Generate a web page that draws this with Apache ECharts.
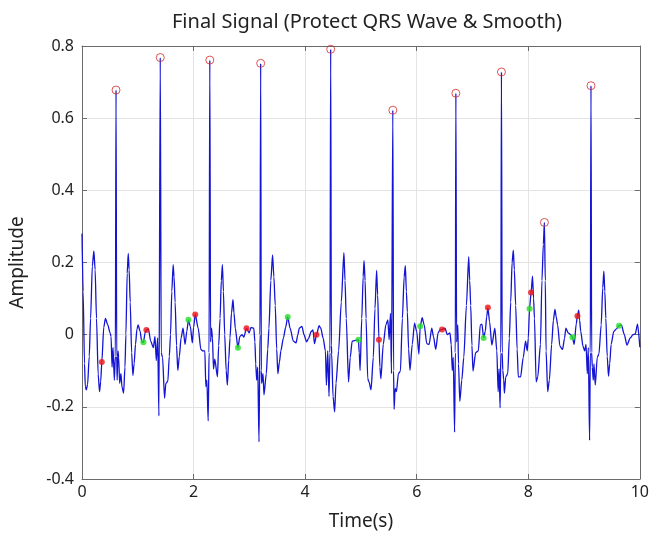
<!DOCTYPE html>
<html>
<head>
<meta charset="utf-8">
<script src="https://cdn.jsdelivr.net/npm/echarts@6/dist/echarts.min.js"></script>
<style>
html,body{margin:0;padding:0;background:#fff;}
#chart{width:652px;height:536px;}
</style>
</head>
<body>
<div id="chart"></div>
<script>
// ---- Data ----
const sigTime = [
0.000,0.020,0.045,0.059,0.077,0.100,0.130,0.154,0.185,0.213,0.235,0.260,0.290,0.314,0.335,0.355,0.390,0.420,0.462,0.503,
0.521,0.539,0.556,0.580,0.598,0.610,0.622,0.630,0.645,0.657,0.675,0.698,0.716,0.746,0.770,0.787,0.810,0.829,0.845,0.864,
0.890,0.912,0.935,0.959,0.985,1.006,1.042,1.071,1.101,1.131,1.154,1.190,1.231,1.279,1.308,1.332,1.356,1.379,1.403,1.420,
1.444,1.480,1.503,1.539,1.565,1.587,1.610,1.634,1.650,1.669,1.695,1.717,1.745,1.776,1.812,1.847,1.880,1.907,1.942,1.978,
2.000,2.030,2.083,2.131,2.167,2.202,2.220,2.238,2.262,2.278,2.291,2.305,2.321,2.339,2.357,2.380,2.428,2.450,2.475,2.497,
2.517,2.535,2.558,2.585,2.606,2.630,2.653,2.680,2.706,2.725,2.748,2.795,2.830,2.872,2.901,2.949,2.996,3.031,3.079,3.100,
3.114,3.132,3.150,3.173,3.190,3.203,3.214,3.221,3.245,3.262,3.304,3.330,3.351,3.385,3.416,3.440,3.464,3.490,3.511,3.540,
3.564,3.611,3.650,3.688,3.730,3.789,3.836,3.870,3.895,3.943,3.980,4.026,4.060,4.109,4.140,4.168,4.204,4.251,4.280,4.322,
4.364,4.381,4.405,4.428,4.445,4.458,4.470,4.476,4.500,4.529,4.553,4.600,4.648,4.695,4.715,4.737,4.778,4.808,4.843,4.896,
4.955,4.970,4.985,5.015,5.040,5.056,5.075,5.092,5.122,5.145,5.181,5.222,5.252,5.281,5.300,5.323,5.340,5.358,5.400,5.447,
5.483,5.506,5.530,5.548,5.572,5.585,5.595,5.613,5.636,5.672,5.708,5.743,5.775,5.796,5.815,5.832,5.855,5.879,5.920,5.961,
6.000,6.039,6.063,6.098,6.134,6.181,6.222,6.270,6.300,6.341,6.383,6.420,6.454,6.507,6.548,6.596,6.619,6.637,6.655,6.679,
6.692,6.702,6.715,6.737,6.749,6.773,6.808,6.844,6.891,6.932,6.950,6.968,6.990,7.009,7.057,7.104,7.140,7.169,7.199,7.229,
7.255,7.276,7.306,7.347,7.401,7.436,7.460,7.477,7.495,7.508,7.519,7.532,7.543,7.560,7.572,7.596,7.632,7.660,7.685,7.710,
7.732,7.750,7.774,7.800,7.821,7.862,7.910,7.951,7.981,8.000,8.023,8.050,8.076,8.095,8.111,8.141,8.170,8.218,8.245,8.270,
8.289,8.305,8.319,8.348,8.378,8.419,8.450,8.478,8.500,8.526,8.567,8.614,8.650,8.674,8.715,8.760,8.792,8.822,8.860,8.881,
8.904,8.920,8.940,8.981,9.011,9.035,9.058,9.076,9.099,9.112,9.124,9.136,9.148,9.165,9.177,9.201,9.236,9.266,9.307,9.335,
9.355,9.372,9.390,9.415,9.438,9.460,9.485,9.533,9.580,9.627,9.669,9.722,9.769,9.828,9.876,9.917,9.959,10.000
];
const sigAmp = [
0.280,0.120,-0.080,-0.144,-0.153,-0.138,-0.060,0.045,0.190,0.232,0.180,0.045,-0.110,-0.158,-0.130,-0.076,0.020,0.045,0.027,0.005,
-0.005,-0.090,-0.036,-0.126,-0.060,0.678,-0.060,-0.126,-0.045,-0.063,-0.135,-0.108,-0.144,-0.162,-0.090,0.000,0.170,0.225,0.180,0.090,
-0.050,-0.113,-0.080,-0.027,0.015,0.027,0.009,-0.020,-0.021,0.005,0.013,0.016,-0.018,-0.036,-0.005,-0.072,-0.009,-0.225,0.768,-0.050,
-0.063,-0.176,-0.135,-0.129,-0.060,0.000,0.120,0.194,0.160,0.090,-0.030,-0.099,-0.060,-0.009,0.018,-0.027,0.010,0.041,0.023,-0.023,
0.020,0.056,0.018,-0.041,-0.045,-0.045,-0.144,-0.126,-0.239,-0.050,0.761,-0.020,0.018,-0.009,-0.095,-0.068,-0.117,-0.030,0.045,0.150,
0.194,0.120,0.000,-0.100,-0.140,-0.070,-0.009,0.060,0.097,0.060,0.018,-0.036,-0.005,0.000,-0.007,0.018,0.005,0.020,0.018,-0.020,
-0.081,-0.126,-0.090,-0.297,0.000,0.752,-0.100,-0.135,-0.108,-0.167,-0.108,-0.040,0.018,0.150,0.221,0.160,0.081,-0.040,-0.108,-0.075,
-0.045,-0.009,0.020,0.049,0.018,-0.018,-0.023,0.000,0.018,0.023,0.000,-0.020,-0.011,0.009,0.013,-0.025,0.000,0.025,0.018,-0.009,
-0.045,-0.140,-0.045,-0.171,-0.050,0.791,-0.030,-0.054,-0.171,-0.214,-0.135,-0.045,0.090,0.227,0.150,0.045,-0.131,-0.063,-0.018,-0.016,
-0.014,-0.050,-0.099,0.045,0.160,0.205,0.150,0.045,-0.122,-0.131,-0.153,-0.063,0.072,0.178,0.110,-0.014,-0.090,-0.122,-0.027,0.027,
0.041,-0.014,0.059,-0.108,0.622,-0.100,-0.207,-0.149,-0.158,-0.108,-0.101,0.045,0.160,0.191,0.120,0.063,-0.040,-0.099,-0.027,0.032,
0.009,-0.054,0.023,0.047,0.027,-0.025,-0.027,0.018,-0.005,-0.041,0.005,0.014,0.014,0.018,0.000,0.005,-0.027,-0.099,-0.063,-0.270,
-0.050,0.669,-0.020,0.027,-0.081,-0.185,-0.126,-0.063,0.081,0.216,0.150,0.081,-0.030,-0.101,-0.050,-0.045,0.027,0.029,-0.009,0.009,
0.050,0.075,0.036,-0.029,0.018,-0.045,-0.158,-0.095,-0.203,-0.050,0.728,-0.050,-0.099,-0.126,-0.162,-0.117,-0.108,-0.010,0.090,0.200,
0.234,0.180,0.081,-0.040,-0.117,-0.117,-0.063,-0.018,-0.045,-0.010,0.072,0.117,0.162,0.100,0.045,-0.131,-0.117,-0.027,0.150,0.250,
0.311,0.150,-0.045,-0.158,-0.126,-0.027,0.040,0.070,0.050,0.027,-0.032,-0.041,-0.010,0.018,0.005,0.000,-0.007,-0.027,0.030,0.052,
0.068,0.040,0.009,-0.032,-0.045,-0.027,-0.108,-0.036,-0.293,-0.050,0.690,-0.050,-0.090,-0.126,-0.081,-0.140,-0.063,-0.054,0.027,0.130,
0.176,0.120,0.045,-0.060,-0.115,-0.080,-0.027,0.009,0.016,0.025,0.027,0.000,-0.029,-0.009,0.000,0.002,0.029,-0.035
];
// R peaks (hollow red circles)
const rPeakTime = [0.610,1.403,2.291,3.203,4.458,5.572,6.702,7.519,8.289,9.124];
const rPeakAmp  = [0.678,0.768,0.761,0.752,0.791,0.622,0.669,0.728,0.311,0.690];
// Red dots
const redTime = [0.355,1.154,2.030,2.949,4.204,5.323,6.454,7.276,8.050,8.881];
const redAmp  = [-0.076,0.013,0.056,0.018,0.000,-0.014,0.014,0.075,0.117,0.052];
// Green dots
const greenTime = [1.101,1.907,2.795,3.688,4.955,6.063,7.199,8.023,8.792,9.627];
const greenAmp  = [-0.021,0.041,-0.036,0.049,-0.014,0.023,-0.009,0.072,-0.007,0.025];
// Tick labels
const xTickLabels = ['0','2','4','6','8','10'];
const yTickLabels = ['-0.4','-0.2','0','0.2','0.4','0.6','0.8'];

const pairs = (xs, ys) => xs.map((x, i) => [x, ys[i]]);
const FONT = '"Noto Sans", "Open Sans", sans-serif';
const axisColor = '#6a6a6a';

const chart = echarts.init(document.getElementById('chart'), null, {renderer: 'canvas'});
chart.setOption({
  animation: false,
  backgroundColor: '#ffffff',
  title: {
    text: 'Final Signal (Protect QRS Wave & Smooth)',
    left: 362, top: 7, textAlign: 'center',
    textStyle: {fontFamily: FONT, fontSize: 20, fontWeight: 'normal', color: '#222'}
  },
  grid: {left: 80, right: 9, top: 46, bottom: 46, containLabel: false},
  xAxis: [{
    type: 'value', min: 0, max: 10, interval: 2,
    name: 'Time(s)', nameLocation: 'middle', nameGap: 33,
    nameTextStyle: {fontFamily: FONT, fontSize: 19, color: '#222'},
    axisLine: {show: true, onZero: false, lineStyle: {color: axisColor, width: 1}},
    axisTick: {show: true, inside: true, length: 5, lineStyle: {color: axisColor}},
    axisLabel: {fontFamily: FONT, fontSize: 16, color: '#222', margin: 5,
      formatter: v => xTickLabels[Math.round(v / 2)]},
    splitLine: {show: true, lineStyle: {color: '#e4e4e4', width: 1}}
  }, {
    type: 'value', min: 0, max: 10, interval: 2, position: 'top',
    axisLine: {show: true, onZero: false, lineStyle: {color: axisColor, width: 1}},
    axisTick: {show: true, inside: true, length: 5, lineStyle: {color: axisColor}},
    axisLabel: {show: false}, splitLine: {show: false}
  }],
  yAxis: [{
    type: 'value', min: -0.4, max: 0.8, interval: 0.2,
    name: 'Amplitude', nameLocation: 'middle', nameGap: 55, nameRotate: 90,
    nameTextStyle: {fontFamily: FONT, fontSize: 19, color: '#222'},
    axisLine: {show: true, onZero: false, lineStyle: {color: axisColor, width: 1}},
    axisTick: {show: true, inside: true, length: 5, lineStyle: {color: axisColor}},
    axisLabel: {fontFamily: FONT, fontSize: 16, color: '#222', margin: 8,
      formatter: v => yTickLabels[Math.round((v + 0.4) / 0.2)]},
    splitLine: {show: true, lineStyle: {color: '#e4e4e4', width: 1}}
  }, {
    type: 'value', min: -0.4, max: 0.8, interval: 0.2, position: 'right',
    axisLine: {show: true, onZero: false, lineStyle: {color: axisColor, width: 1}},
    axisTick: {show: true, inside: true, length: 5, lineStyle: {color: axisColor}},
    axisLabel: {show: false}, splitLine: {show: false}
  }],
  series: [{
    type: 'line', data: pairs(sigTime, sigAmp), showSymbol: false,
    smooth: 0.25, smoothMonotone: 'x',
    lineStyle: {color: '#1414d4', width: 1.3}, z: 2
  }, {
    type: 'scatter', data: pairs(rPeakTime, rPeakAmp), symbol: 'circle', symbolSize: 8,
    itemStyle: {color: 'rgba(0,0,0,0)', borderColor: '#d42a2a', borderWidth: 1}, z: 4
  }, {
    type: 'scatter', data: pairs(redTime, redAmp), symbol: 'circle', symbolSize: 6,
    itemStyle: {color: '#ee1111'}, z: 5
  }, {
    type: 'scatter', data: pairs(greenTime, greenAmp), symbol: 'circle', symbolSize: 6,
    itemStyle: {color: '#22e022'}, z: 5
  }]
});
</script>
</body>
</html>
